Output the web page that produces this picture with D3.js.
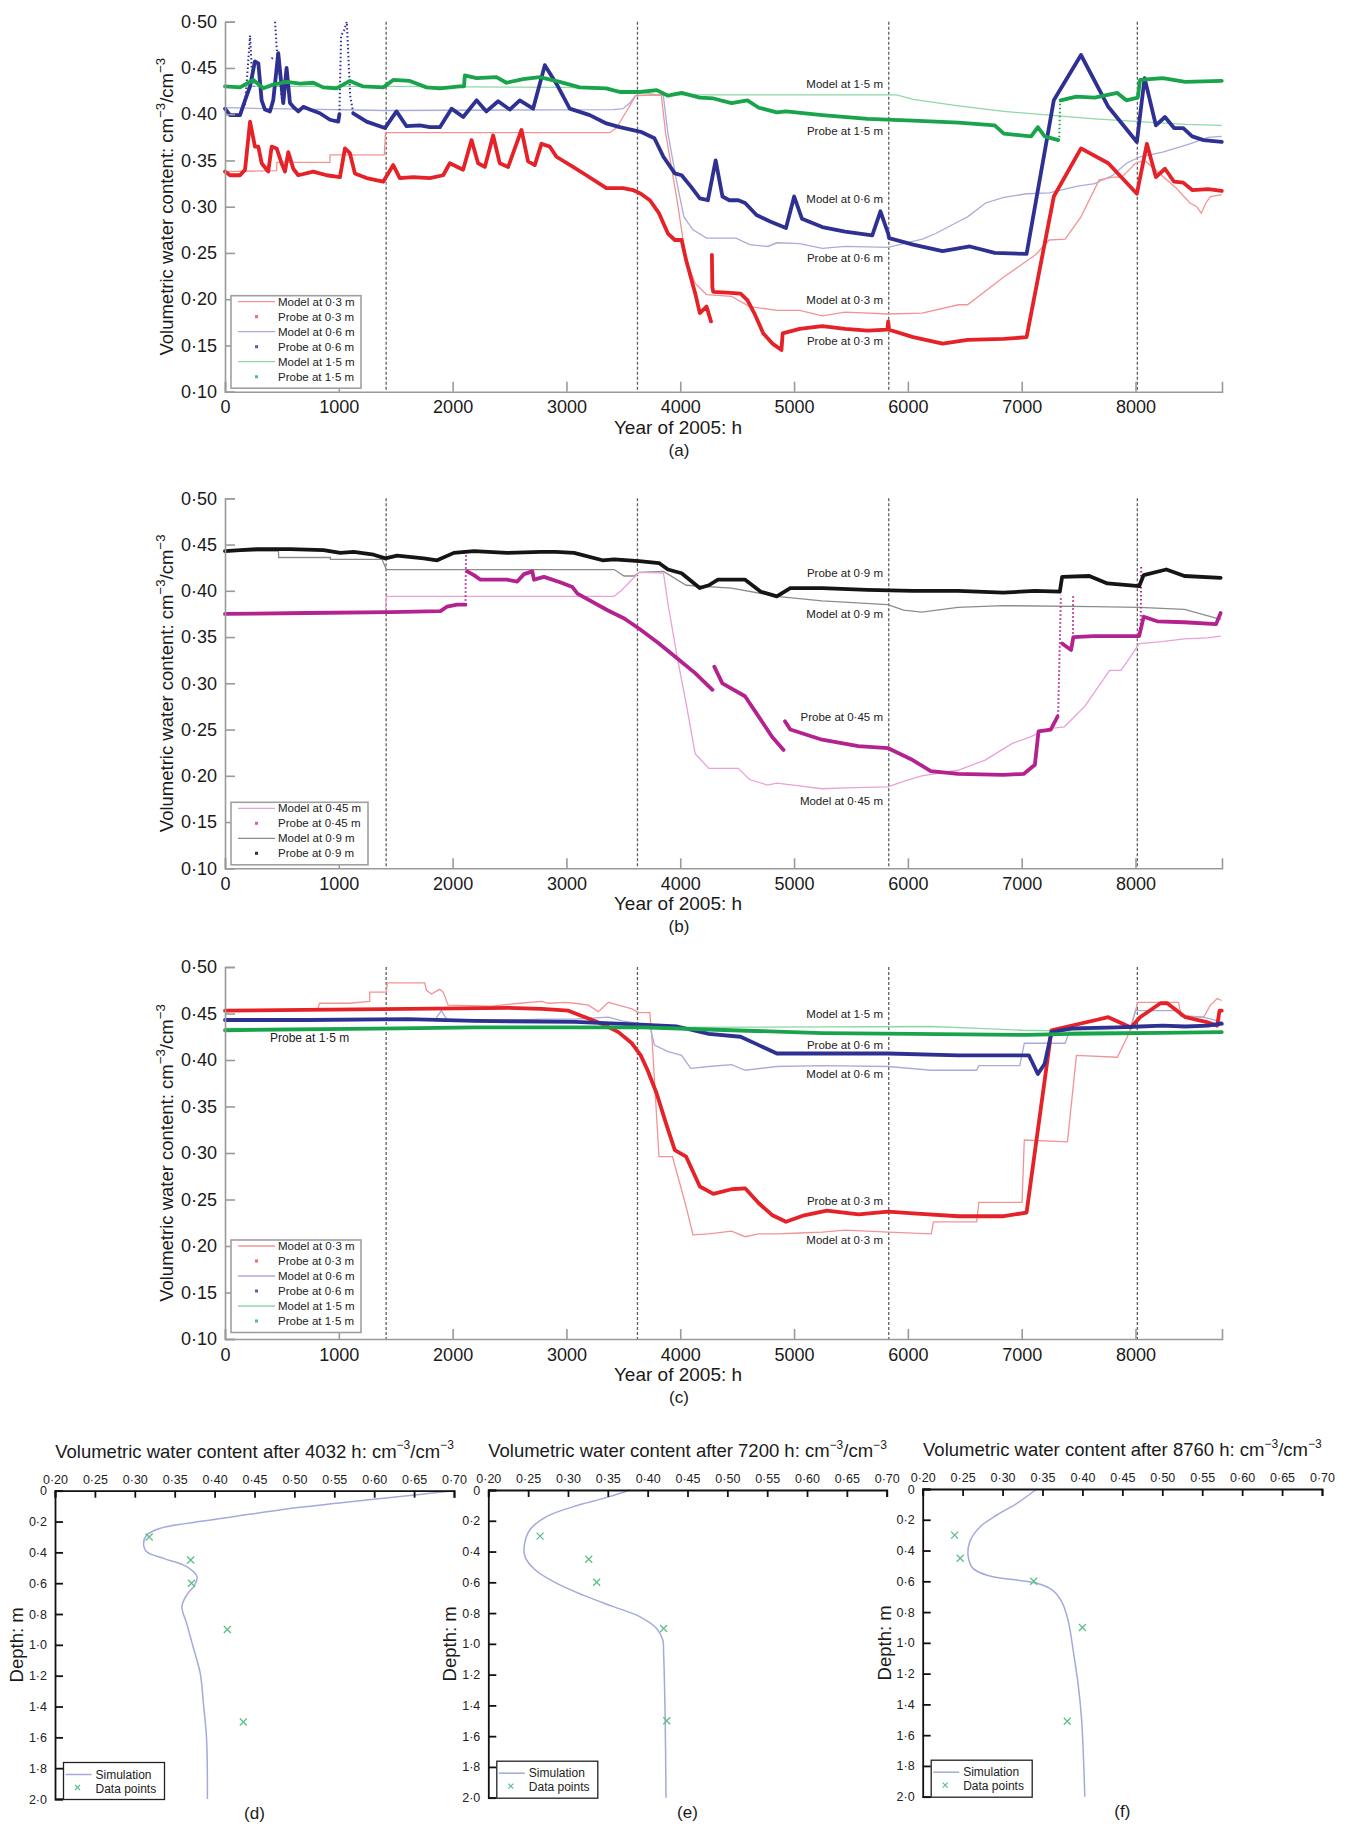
<!DOCTYPE html>
<html>
<head>
<meta charset="utf-8">
<script src="https://cdn.jsdelivr.net/npm/d3@7"></script>
<style>
body { margin: 0; background: #fff; }
svg { display: block; font-family: "Liberation Sans", Arial, sans-serif; }
</style>
</head>
<body>
<svg id="fig" width="1348" height="1827"></svg>
<script>
// ---- tick values ----
var timeTicks = [0, 1000, 2000, 3000, 4000, 5000, 6000, 7000, 8000];
var thetaTicks = [0.10, 0.15, 0.20, 0.25, 0.30, 0.35, 0.40, 0.45, 0.50];
var profileTicks = [0.20, 0.25, 0.30, 0.35, 0.40, 0.45, 0.50, 0.55, 0.60, 0.65, 0.70];
var depthTicks = [0, 0.2, 0.4, 0.6, 0.8, 1.0, 1.2, 1.4, 1.6, 1.8, 2.0];
var seasonHours = [1416, 3624, 5832, 8016];

// ---- panel (a): [hour, water content] ----
var model03a = [[0,0.338],[454,0.339],[455,0.348],[922,0.348],[923,0.356],[1400,0.356],[1410,0.380],[3380,0.380],[3439,0.385],[3497,0.397],[3585,0.415],[3606,0.420],[3833,0.421],[3872,0.379],[3972,0.307],[4052,0.242],[4132,0.217],[4231,0.205],[4451,0.203],[4610,0.192],[4849,0.188],[5049,0.188],[5248,0.182],[5448,0.186],[5827,0.184],[6126,0.185],[6445,0.194],[6524,0.194],[6843,0.224],[7122,0.248],[7242,0.264],[7382,0.265],[7521,0.289],[7681,0.329],[7801,0.332],[7880,0.332],[8000,0.347],[8080,0.350],[8359,0.320],[8478,0.304],[8538,0.300],[8578,0.293],[8618,0.304],[8658,0.311],[8758,0.313]];
var model06a = [[0,0.407],[424,0.406],[1405,0.404],[3410,0.405],[3497,0.406],[3556,0.412],[3606,0.420],[3850,0.421],[3892,0.379],[3972,0.325],[4032,0.289],[4112,0.275],[4231,0.266],[4490,0.266],[4610,0.259],[4770,0.257],[4849,0.261],[5049,0.260],[5248,0.255],[5448,0.257],[5827,0.256],[6126,0.265],[6245,0.271],[6445,0.284],[6524,0.289],[6683,0.304],[6843,0.310],[7043,0.314],[7242,0.315],[7481,0.322],[7641,0.325],[7801,0.334],[7920,0.347],[8040,0.354],[8239,0.359],[8478,0.368],[8638,0.375],[8758,0.376]];
var model15a = [[0,0.430],[1400,0.430],[3000,0.429],[3600,0.425],[3800,0.421],[5900,0.421],[6046,0.416],[6445,0.409],[6843,0.403],[7242,0.399],[7641,0.395],[8040,0.392],[8438,0.389],[8758,0.388]];
var probe03a = [[0,0.338],[44,0.334],[132,0.334],[176,0.340],[220,0.392],[263,0.365],[293,0.365],[322,0.347],[380,0.338],[410,0.365],[454,0.363],[497,0.347],[527,0.338],[556,0.359],[600,0.341],[644,0.334],[776,0.338],[893,0.334],[1010,0.332],[1054,0.363],[1097,0.358],[1141,0.336],[1244,0.331],[1390,0.327],[1478,0.345],[1536,0.331],[1654,0.332],[1800,0.331],[1917,0.334],[1975,0.347],[2092,0.340],[2166,0.372],[2224,0.347],[2283,0.343],[2356,0.377],[2414,0.347],[2488,0.343],[2605,0.383],[2663,0.349],[2722,0.345],[2780,0.368],[2853,0.365],[2912,0.354],[3058,0.343],[3175,0.334],[3351,0.320],[3497,0.320],[3585,0.318],[3653,0.314],[3733,0.307],[3813,0.293],[3892,0.271],[3952,0.264],[4012,0.264],[4052,0.242],[4132,0.206],[4172,0.185],[4231,0.192],[4270,0.176]];
var probe03a2 = [[4278,0.248],[4282,0.213],[4290,0.208],[4411,0.207],[4530,0.206],[4590,0.199],[4650,0.185],[4730,0.163],[4810,0.152],[4889,0.145],[4900,0.163],[5049,0.168],[5248,0.171],[5448,0.168],[5647,0.166],[5820,0.167],[5827,0.176],[5835,0.167],[6046,0.159],[6305,0.152],[6524,0.156],[6843,0.157],[7043,0.159],[7282,0.311],[7521,0.363],[7761,0.347],[8012,0.314],[8100,0.368],[8179,0.332],[8259,0.341],[8339,0.327],[8419,0.326],[8498,0.318],[8638,0.319],[8758,0.317]];
var probe06a = [[0,0.406],[44,0.399],[132,0.399],[176,0.415],[220,0.430],[263,0.457],[293,0.455],[322,0.415],[351,0.405],[395,0.403],[424,0.415],[468,0.466],[512,0.412],[541,0.450],[571,0.412],[600,0.408],[644,0.403],[688,0.408],[746,0.405],[834,0.401],[922,0.394],[995,0.392],[1005,0.400]];
var probe06a2 = [[1127,0.401],[1244,0.392],[1405,0.385],[1507,0.403],[1595,0.387],[1712,0.388],[1800,0.386],[1888,0.386],[1990,0.406],[2093,0.397],[2210,0.415],[2297,0.403],[2400,0.414],[2502,0.405],[2590,0.415],[2707,0.406],[2810,0.453],[2912,0.433],[3029,0.406],[3205,0.399],[3351,0.390],[3468,0.386],[3653,0.381],[3773,0.374],[3852,0.354],[3952,0.336],[4012,0.334],[4092,0.322],[4172,0.309],[4243,0.307],[4311,0.350],[4371,0.311],[4431,0.307],[4510,0.307],[4570,0.304],[4670,0.291],[4790,0.284],[4929,0.277],[5001,0.311],[5069,0.287],[5248,0.278],[5448,0.273],[5687,0.269],[5759,0.295],[5827,0.271],[5835,0.266],[6046,0.259],[6305,0.252],[6544,0.257],[6763,0.250],[7043,0.249],[7282,0.415],[7521,0.464],[7761,0.408],[8012,0.370],[8080,0.439],[8179,0.388],[8259,0.397],[8339,0.385],[8419,0.385],[8498,0.376],[8598,0.372],[8758,0.370]];
var spikes06a = [
  [[176,0.41],[200,0.45],[220,0.485],[235,0.45],[255,0.43]],
  [[410,0.46],[425,0.462]],
  [[440,0.50],[455,0.47],[475,0.45],[495,0.42],[510,0.41]],
  [[1005,0.40],[1020,0.485],[1045,0.49],[1070,0.50],[1085,0.46],[1100,0.42],[1127,0.401]]
];
var probe15a = [[0,0.430],[132,0.429],[249,0.437],[337,0.428],[424,0.432],[541,0.435],[659,0.433],[776,0.434],[863,0.429],[980,0.428],[1097,0.436],[1214,0.430],[1390,0.429],[1478,0.437],[1624,0.436],[1771,0.429],[1888,0.428],[2063,0.430],[2100,0.430],[2107,0.442],[2210,0.439],[2385,0.440],[2473,0.434],[2619,0.438],[2766,0.440],[2941,0.435],[3117,0.429],[3351,0.428],[3468,0.424],[3644,0.424],[3793,0.426],[3892,0.420],[4012,0.423],[4172,0.418],[4291,0.417],[4451,0.412],[4590,0.415],[4690,0.407],[4849,0.402],[4929,0.403],[5248,0.399],[5647,0.395],[6046,0.393],[6445,0.391],[6763,0.388],[6843,0.379],[7083,0.376],[7142,0.386],[7202,0.376],[7322,0.372]];
var probe15a2 = [[7342,0.415],[7481,0.419],[7641,0.418],[7840,0.423],[7920,0.415],[8020,0.418],[8040,0.437],[8239,0.439],[8438,0.435],[8758,0.436]];
var spikes15a = [[[7330,0.375],[7338,0.415]]];

// ---- panel (b) ----
var model045 = [[0,0.376],[1409,0.377],[1418,0.394],[3419,0.394],[3480,0.400],[3560,0.410],[3640,0.420],[3853,0.419],[3892,0.386],[3972,0.329],[4052,0.278],[4131,0.224],[4251,0.208],[4510,0.208],[4609,0.196],[4768,0.190],[4848,0.192],[5047,0.189],[5246,0.186],[5445,0.187],[5823,0.188],[5962,0.194],[6121,0.200],[6440,0.206],[6679,0.217],[6917,0.235],[7076,0.242],[7235,0.251],[7375,0.253],[7554,0.275],[7773,0.314],[7872,0.314],[7952,0.328],[8032,0.343],[8231,0.345],[8430,0.348],[8629,0.349],[8748,0.351]];
var model09 = [[0,0.443],[470,0.443],[471,0.436],[925,0.436],[926,0.434],[1380,0.434],[1418,0.423],[3419,0.423],[3507,0.416],[3596,0.416],[3640,0.420],[3853,0.421],[4052,0.406],[4450,0.403],[4848,0.394],[5246,0.389],[5823,0.385],[5962,0.379],[6121,0.377],[6440,0.382],[6838,0.384],[7634,0.383],[8032,0.382],[8430,0.380],[8748,0.369]];
var probe045 = [[0,0.375],[719,0.376],[1453,0.377],[1893,0.378],[1952,0.383],[2040,0.385],[2113,0.385]];
var probe045b = [[2128,0.421],[2187,0.417],[2245,0.412],[2333,0.412],[2480,0.412],[2568,0.410],[2627,0.418],[2700,0.421],[2715,0.412],[2803,0.415],[2950,0.409],[3053,0.404],[3097,0.397],[3361,0.379],[3508,0.370],[3640,0.359],[3813,0.343],[3972,0.327],[4131,0.311],[4283,0.293]];
var probe045c = [[4299,0.318],[4370,0.300],[4569,0.286],[4689,0.264],[4808,0.242],[4908,0.228]];
var probe045d = [[4920,0.259],[4967,0.250],[5246,0.239],[5564,0.232],[5823,0.230],[6042,0.217],[6201,0.205],[6440,0.202],[6838,0.201],[7017,0.202],[7116,0.212],[7148,0.248],[7255,0.250],[7315,0.264]];
var probe045e = [[7355,0.343],[7434,0.336],[7454,0.350],[7634,0.351],[8032,0.351],[8072,0.372],[8191,0.367],[8430,0.366],[8708,0.364],[8748,0.376]];
var spikes045 = [[[2113,0.385],[2118,0.445]],[[7320,0.265],[7335,0.345],[7345,0.395]],[[7450,0.345],[7452,0.395]],[[8045,0.355],[8050,0.428]]];
var probe09 = [[0,0.443],[279,0.445],[572,0.445],[866,0.444],[1013,0.441],[1130,0.442],[1306,0.439],[1409,0.435],[1512,0.438],[1746,0.435],[1864,0.433],[2011,0.441],[2187,0.443],[2480,0.441],[2774,0.442],[2906,0.442],[3067,0.441],[3317,0.433],[3419,0.434],[3640,0.432],[3813,0.430],[3892,0.423],[4012,0.419],[4171,0.403],[4251,0.406],[4331,0.412],[4490,0.412],[4570,0.412],[4708,0.399],[4848,0.394],[4967,0.403],[5246,0.403],[5644,0.401],[6042,0.400],[6440,0.400],[6838,0.398],[7116,0.400],[7335,0.399],[7355,0.415],[7594,0.416],[7753,0.408],[8032,0.405],[8072,0.417],[8271,0.423],[8430,0.416],[8748,0.414]];

// ---- panel (c) ----
var model03c = [[0,0.453],[816,0.455],[830,0.461],[1095,0.461],[1271,0.463],[1272,0.473],[1418,0.473],[1426,0.483],[1755,0.483],[1770,0.475],[1814,0.471],[1843,0.473],[1887,0.476],[1917,0.473],[1961,0.459],[2342,0.458],[2592,0.461],[2782,0.463],[2841,0.461],[2988,0.462],[3076,0.461],[3193,0.459],[3281,0.452],[3369,0.462],[3457,0.459],[3575,0.455],[3634,0.451],[3732,0.451],[3753,0.421],[3813,0.296],[3932,0.296],[4052,0.242],[4112,0.212],[4251,0.213],[4451,0.216],[4570,0.210],[4690,0.213],[4849,0.213],[5049,0.214],[5248,0.215],[5448,0.217],[5827,0.215],[6205,0.213],[6225,0.226],[6604,0.226],[6624,0.247],[7003,0.247],[7023,0.314],[7402,0.312],[7481,0.405],[7840,0.403],[7940,0.428],[8000,0.453],[8020,0.462],[8379,0.462],[8399,0.448],[8598,0.446],[8658,0.459],[8718,0.466],[8758,0.464]];
var model06c = [[0,0.443],[1843,0.443],[1902,0.453],[1946,0.444],[2195,0.441],[2782,0.444],[3076,0.444],[3369,0.446],[3487,0.442],[3653,0.439],[3733,0.437],[3773,0.416],[3892,0.409],[4012,0.405],[4092,0.391],[4251,0.393],[4451,0.395],[4570,0.389],[4849,0.393],[5248,0.394],[5827,0.393],[6205,0.389],[6604,0.389],[6624,0.394],[6983,0.394],[7023,0.418],[7382,0.418],[7422,0.432],[7960,0.435],[8000,0.453],[8040,0.453],[8359,0.453],[8399,0.447],[8598,0.446],[8758,0.441]];
var model15c = [[0,0.434],[3663,0.435],[6205,0.436],[6624,0.434],[7003,0.432],[7442,0.431],[8758,0.430]];
var probe03c = [[0,0.453],[1608,0.455],[2489,0.456],[2782,0.455],[3017,0.453],[3164,0.446],[3311,0.439],[3457,0.430],[3575,0.418],[3653,0.405],[3713,0.389],[3793,0.364],[3872,0.333],[3952,0.303],[4052,0.296],[4172,0.264],[4291,0.256],[4451,0.261],[4570,0.262],[4690,0.246],[4810,0.233],[4929,0.226],[5089,0.233],[5288,0.238],[5567,0.234],[5827,0.237],[6046,0.235],[6445,0.232],[6843,0.232],[7043,0.236],[7262,0.432],[7761,0.446],[7960,0.435],[8040,0.446],[8219,0.461],[8279,0.461],[8438,0.446],[8618,0.441],[8718,0.437],[8738,0.453],[8758,0.453]];
var probe06c = [[0,0.443],[728,0.443],[1608,0.444],[2195,0.442],[3076,0.441],[3653,0.438],[3972,0.436],[4251,0.428],[4530,0.425],[4690,0.416],[4849,0.407],[5248,0.407],[5827,0.407],[6445,0.405],[7063,0.405],[7083,0.400],[7142,0.385],[7202,0.396],[7262,0.430],[7442,0.434],[7840,0.435],[8040,0.436],[8239,0.437],[8438,0.436],[8638,0.437],[8758,0.439]];
var probe15c = [[0,0.432],[1526,0.434],[2195,0.435],[3663,0.435],[4451,0.432],[5248,0.429],[6046,0.428],[7043,0.427],[7442,0.428],[8040,0.429],[8758,0.430]];

// ---- profiles (d)-(f): [water content, depth m] ----
var sim4032 = [[0.70,0],[0.651,0.028],[0.59,0.06],[0.507,0.108],[0.423,0.169],[0.365,0.212],[0.332,0.244],[0.315,0.288],[0.311,0.342],[0.315,0.396],[0.336,0.439],[0.365,0.493],[0.378,0.558],[0.375,0.612],[0.365,0.677],[0.359,0.752],[0.365,0.861],[0.373,1.012],[0.382,1.185],[0.386,1.38],[0.39,1.617],[0.391,2.0]];
var obs4032 = [[0.318,0.30],[0.370,0.45],[0.371,0.60],[0.416,0.90],[0.436,1.50]];
var sim7200 = [[0.378,0],[0.349,0.048],[0.307,0.108],[0.273,0.173],[0.252,0.26],[0.245,0.368],[0.246,0.433],[0.259,0.52],[0.286,0.607],[0.319,0.683],[0.357,0.758],[0.390,0.823],[0.411,0.899],[0.419,0.975],[0.420,1.06],[0.422,1.495],[0.423,2.0]];
var obs7200 = [[0.265,0.30],[0.326,0.45],[0.336,0.60],[0.420,0.90],[0.424,1.50]];
var sim8760 = [[0.343,0],[0.318,0.093],[0.293,0.169],[0.272,0.245],[0.259,0.342],[0.257,0.44],[0.263,0.516],[0.284,0.566],[0.318,0.592],[0.343,0.613],[0.362,0.656],[0.374,0.732],[0.382,0.852],[0.389,1.068],[0.395,1.285],[0.399,1.50],[0.403,2.0]];
var obs8760 = [[0.240,0.30],[0.247,0.45],[0.339,0.60],[0.400,0.90],[0.381,1.51]];

// ---- labels ----
var legendLabelsA = ['Model at 0·3 m', 'Probe at 0·3 m', 'Model at 0·6 m', 'Probe at 0·6 m', 'Model at 1·5 m', 'Probe at 1·5 m'];
var legendLabelsB = ['Model at 0·45 m', 'Probe at 0·45 m', 'Model at 0·9 m', 'Probe at 0·9 m'];
var notesA = [['Model at 1·5 m', 0.4327], ['Probe at 1·5 m', 0.382], ['Model at 0·6 m', 0.3093], ['Probe at 0·6 m', 0.245], ['Model at 0·3 m', 0.2002], ['Probe at 0·3 m', 0.155]];
var notesB = [['Probe at 0·9 m', 0.4196], ['Model at 0·9 m', 0.3757], ['Probe at 0·45 m', 0.2646], ['Model at 0·45 m', 0.1738]];
var notesC = [['Model at 1·5 m', 0.4495], ['Probe at 0·6 m', 0.4172], ['Model at 0·6 m', 0.385], ['Probe at 0·3 m', 0.2484], ['Model at 0·3 m', 0.2065]];

var col = {
  red: '#e42228', redM: '#f39494', redP: '#f06a6a',
  blue: '#2e3192', blueM: '#a9acd9', blueP: '#5a5fb5',
  green: '#19a44b', greenM: '#8ed8a8', greenP: '#4fc27a',
  mag: '#b3228e', magM: '#eaa0d9', magP: '#d65cb8',
  black: '#151515', grayM: '#8c8c8c', blackP: '#333'
};

var svg = d3.select('#fig');
var xScale = d3.scaleLinear().domain([0, 8760]).range([225, 1222]);
var mid = function(s) { return s.replace('.', '\u00b7'); };

function supLabel(t, main, size, k) {
  t.append('tspan').text(main);
  t.append('tspan').attr('dy', -size * 0.45).attr('font-size', size * k).text('\u22123');
  t.append('tspan').attr('dy', size * 0.45).text('/cm');
  t.append('tspan').attr('dy', -size * 0.45).attr('font-size', size * k).text('\u22123');
}

function drawTimePanel(cfg) {
  var y = d3.scaleLinear().domain([0.10, 0.50]).range([cfg.bottom, cfg.top]);
  var g = svg.append('g');
  var line = d3.line().x(function(d) { return xScale(d[0]); }).y(function(d) { return y(d[1]); });

  g.selectAll('line.season').data(seasonHours).enter().append('line')
    .attr('x1', function(d) { return xScale(d); }).attr('x2', function(d) { return xScale(d); })
    .attr('y1', y(0.50)).attr('y2', y(0.10))
    .attr('stroke', '#5f5f5f').attr('stroke-width', 1.3).attr('stroke-dasharray', '3,2');

  cfg.models.forEach(function(s) {
    g.append('path').attr('d', line(s[0])).attr('fill', 'none')
      .attr('stroke', s[1]).attr('stroke-width', 1.3);
  });
  cfg.spikes.forEach(function(s) {
    s[0].forEach(function(seg) {
      g.append('path').attr('d', line(seg)).attr('fill', 'none')
        .attr('stroke', s[1]).attr('stroke-width', 2).attr('stroke-dasharray', '1.5,2.5');
    });
  });
  cfg.probes.forEach(function(s) {
    g.append('path').attr('d', line(s[0])).attr('fill', 'none')
      .attr('stroke', s[1]).attr('stroke-width', 3.8)
      .attr('stroke-linejoin', 'round').attr('stroke-linecap', 'round');
  });

  var yAxis = g.append('g').attr('transform', 'translate(' + xScale(0) + ',0)')
    .call(d3.axisLeft(y).tickValues(thetaTicks).tickSize(-10).tickPadding(8)
      .tickFormat(function(d) { return mid(d3.format('.2f')(d)); }));
  var xAxis = g.append('g').attr('transform', 'translate(0,' + cfg.bottom + ')')
    .call(d3.axisBottom(xScale).tickValues(timeTicks).tickSize(-10).tickPadding(9)
      .tickFormat(d3.format('d')));
  [yAxis, xAxis].forEach(function(a) {
    a.selectAll('path,line').attr('stroke', '#9a9a9a').attr('stroke-width', 1.6);
    a.selectAll('text').attr('font-size', 18).attr('fill', '#1a1a1a')
      .attr('font-family', '"Liberation Sans", Arial, sans-serif');
  });

  var yl = g.append('text').attr('font-size', 18.5).attr('fill', '#1a1a1a')
    .attr('text-anchor', 'middle')
    .attr('transform', 'translate(173,' + ((cfg.top + cfg.bottom) / 2) + ') rotate(-90)');
  supLabel(yl, 'Volumetric water content: cm', 18.5, 0.72);

  g.append('text').attr('x', 678).attr('y', cfg.bottom + 42).attr('text-anchor', 'middle')
    .attr('font-size', 19).attr('fill', '#1a1a1a').text('Year of 2005: h');
  g.append('text').attr('x', 679).attr('y', cfg.bottom + 64).attr('text-anchor', 'middle')
    .attr('font-size', 17).attr('fill', '#1a1a1a').text(cfg.tag);

  // legend
  var lg = g.append('g');
  var rows = cfg.legend.length;
  var lx = 231, ly = cfg.legendTop;
  lg.append('rect').attr('x', lx).attr('y', ly).attr('width', cfg.legendW).attr('height', rows * 15 + 2.5)
    .attr('fill', '#fff').attr('stroke', '#a0a0a0').attr('stroke-width', 1.6);
  cfg.legend.forEach(function(e, i) {
    var cy = ly + 6 + i * 15;
    if (e.kind === 'line') {
      lg.append('line').attr('x1', lx + 7).attr('x2', lx + 44).attr('y1', cy).attr('y2', cy)
        .attr('stroke', e.color).attr('stroke-width', 1.3);
    } else {
      lg.append('rect').attr('x', lx + 24).attr('y', cy - 1.5).attr('width', 3).attr('height', 3)
        .attr('fill', e.color);
    }
    lg.append('text').attr('x', lx + 47).attr('y', cy + 4).attr('font-size', 11.5)
      .attr('fill', '#222').text(e.label);
  });

  // curve labels
  cfg.notes.forEach(function(n) {
    g.append('text').attr('x', 883).attr('y', y(n[1]) + 4.5).attr('text-anchor', 'end')
      .attr('font-size', 11.5).attr('fill', '#222').text(n[0]);
  });
  if (cfg.extra) {
    g.append('text').attr('x', xScale(cfg.extra[1])).attr('y', y(cfg.extra[2]) + 4.5)
      .attr('font-size', 12).attr('fill', '#222').text(cfg.extra[0]);
  }
}

function legendFrom(labels, colors) {
  return labels.map(function(l, i) {
    return { label: l, kind: i % 2 === 0 ? 'line' : 'dot', color: colors[i] };
  });
}

drawTimePanel({
  top: 21.7, bottom: 391.7, tag: '(a)', legendTop: 295.7, legendW: 130,
  models: [[model15a, col.greenM], [model06a, col.blueM], [model03a, col.redM]],
  spikes: [[spikes06a, col.blue], [spikes15a, col.green]],
  probes: [[probe03a, col.red], [probe03a2, col.red], [probe06a, col.blue], [probe06a2, col.blue],
           [probe15a, col.green], [probe15a2, col.green]],
  legend: legendFrom(legendLabelsA, [col.redM, col.redP, col.blueM, col.blueP, col.greenM, col.greenP]),
  notes: notesA
});

drawTimePanel({
  top: 498.3, bottom: 868.3, tag: '(b)', legendTop: 802.3, legendW: 137,
  models: [[model09, col.grayM], [model045, col.magM]],
  spikes: [[spikes045, col.mag]],
  probes: [[probe09, col.black], [probe045, col.mag], [probe045b, col.mag], [probe045c, col.mag],
           [probe045d, col.mag], [probe045e, col.mag]],
  legend: legendFrom(legendLabelsB, [col.magM, col.magP, col.grayM, col.blackP]),
  notes: notesB
});

drawTimePanel({
  top: 967, bottom: 1339, tag: '(c)', legendTop: 1240, legendW: 130,
  models: [[model03c, col.redM], [model06c, col.blueM], [model15c, col.greenM]],
  spikes: [],
  probes: [[probe03c, col.red], [probe06c, col.blue], [probe15c, col.green]],
  legend: legendFrom(legendLabelsA, [col.redM, col.redP, col.blueM, col.blueP, col.greenM, col.greenP]),
  notes: notesC,
  extra: ['Probe at 1·5 m', 395, 0.424]
});

// ---- depth profiles ----
function drawProfile(cfg) {
  var x = d3.scaleLinear().domain([0.20, 0.70]).range([cfg.left, cfg.right]);
  var y = d3.scaleLinear().domain([0, 2.0]).range([cfg.top, cfg.bottom]);
  var g = svg.append('g');
  var cx = (cfg.left + cfg.right) / 2;

  g.append('path')
    .attr('d', d3.line().curve(d3.curveCatmullRom)
      .x(function(d) { return x(d[0]); }).y(function(d) { return y(d[1]); })(cfg.sim))
    .attr('fill', 'none').attr('stroke', '#a4aadb').attr('stroke-width', 1.5);

  g.selectAll('path.obs').data(cfg.obs).enter().append('path')
    .attr('d', function(d) {
      var px = x(d[0]), py = y(d[1]), r = 3.5;
      return 'M' + (px - r) + ',' + (py - r) + 'L' + (px + r) + ',' + (py + r) +
             'M' + (px - r) + ',' + (py + r) + 'L' + (px + r) + ',' + (py - r);
    })
    .attr('stroke', '#5ebf8a').attr('stroke-width', 1.3);

  var ax = g.append('g').attr('transform', 'translate(0,' + cfg.top + ')')
    .call(d3.axisTop(x).tickValues(profileTicks).tickSize(-7).tickPadding(7)
      .tickFormat(function(d) { return mid(d3.format('.2f')(d)); }));
  var ay = g.append('g').attr('transform', 'translate(' + cfg.left + ',0)')
    .call(d3.axisLeft(y).tickValues(depthTicks).tickSize(-8).tickPadding(8)
      .tickFormat(function(d) { return d === 0 ? '0' : mid(d3.format('.1f')(d)); }));
  [ax, ay].forEach(function(a) {
    a.selectAll('path,line').attr('stroke', '#111').attr('stroke-width', 1.8);
    a.selectAll('text').attr('font-size', 12.5).attr('fill', '#222')
      .attr('font-family', '"Liberation Sans", Arial, sans-serif');
  });

  var t = g.append('text').attr('x', cx).attr('y', cfg.top - 33).attr('text-anchor', 'middle')
    .attr('font-size', 18.5).attr('fill', '#1a1a1a');
  supLabel(t, 'Volumetric water content after ' + cfg.hour + ' h: cm', 18.5, 0.65);

  g.append('text').attr('text-anchor', 'middle').attr('font-size', 18.5).attr('fill', '#1a1a1a')
    .attr('transform', 'translate(' + (cfg.left - 32) + ',' + ((cfg.top + cfg.bottom) / 2) + ') rotate(-90)')
    .text('Depth: m');
  g.append('text').attr('x', cx).attr('y', cfg.bottom + 20).attr('text-anchor', 'middle')
    .attr('font-size', 17).attr('fill', '#1a1a1a').text(cfg.tag);

  var lx = cfg.left + 8.5, ly = cfg.bottom - 36.5;
  g.append('rect').attr('x', lx).attr('y', ly).attr('width', 101).attr('height', 37)
    .attr('fill', '#fff').attr('stroke', '#222').attr('stroke-width', 1.3);
  g.append('line').attr('x1', lx + 2).attr('x2', lx + 28).attr('y1', ly + 12).attr('y2', ly + 12)
    .attr('stroke', '#a4aadb').attr('stroke-width', 1.5);
  g.append('path').attr('d', 'M' + (lx + 11.5) + ',' + (ly + 22.5) + 'l5,5m-5,0l5,-5')
    .attr('stroke', '#5ebf8a').attr('stroke-width', 1.2);
  g.append('text').attr('x', lx + 32).attr('y', ly + 16).attr('font-size', 12).attr('fill', '#222').text('Simulation');
  g.append('text').attr('x', lx + 32).attr('y', ly + 30).attr('font-size', 12).attr('fill', '#222').text('Data points');
}

drawProfile({ left: 55, right: 454, top: 1490.7, bottom: 1799, sim: sim4032, obs: obs4032, hour: 4032, tag: '(d)' });
drawProfile({ left: 488.3, right: 886.7, top: 1490, bottom: 1797.7, sim: sim7200, obs: obs7200, hour: 7200, tag: '(e)' });
drawProfile({ left: 922.7, right: 1322, top: 1489, bottom: 1796.7, sim: sim8760, obs: obs8760, hour: 8760, tag: '(f)' });
</script>
</body>
</html>
